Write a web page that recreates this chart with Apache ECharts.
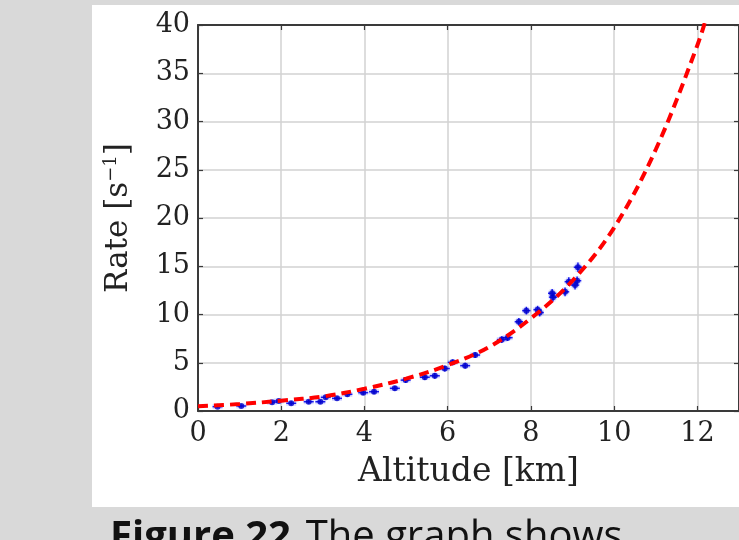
<!DOCTYPE html>
<html>
<head>
<meta charset="utf-8">
<script src="https://cdn.jsdelivr.net/npm/echarts@6/dist/echarts.min.js"></script>
<style>
html,body{margin:0;padding:0;background:#d9d9d9;overflow:hidden;}
#c{width:739px;height:540px;}
</style>
</head>
<body>
<div id="c"></div>
<script>
// Measured data points (altitude km, rate s^-1) with error bars
const altitude = [0.47,1.04,1.78,1.94,2.24,2.66,2.94,3.07,3.34,3.59,3.97,4.23,4.73,4.99,5.45,5.69,5.93,6.12,6.42,6.66,7.30,7.44,7.71,7.89,8.16,8.21,8.51,8.53,8.82,8.91,9.06,9.11,9.13];
const rate     = [0.45,0.52,0.90,1.04,0.80,0.96,0.96,1.42,1.31,1.73,1.90,2.00,2.35,3.20,3.50,3.65,4.40,5.04,4.70,5.80,7.40,7.60,9.25,10.40,10.50,10.20,12.20,11.80,12.35,13.40,13.05,13.50,14.90];
const altErr   = [0.12,0.12,0.12,0.12,0.12,0.12,0.12,0.12,0.12,0.12,0.12,0.12,0.12,0.12,0.12,0.12,0.12,0.12,0.12,0.12,0.12,0.12,0.1,0.1,0.1,0.1,0.1,0.1,0.1,0.1,0.1,0.1,0.1];
const rateErr  = [0.15,0.15,0.2,0.2,0.2,0.2,0.2,0.2,0.2,0.25,0.25,0.25,0.25,0.3,0.3,0.3,0.3,0.3,0.3,0.3,0.35,0.35,0.4,0.4,0.4,0.4,0.45,0.45,0.45,0.45,0.45,0.45,0.5];
// Fitted curve
const fitAltitude = [0,1,2,3,4,5,6,7,8,9,10,11,12,12.3];
const fitRate     = [0.5,0.72,1.07,1.5,2.3,3.35,4.75,6.65,9.6,13.5,19.0,27.1,37.9,42];
// Tick settings
const xTicks = [0,2,4,6,8,10,12];
const yTicks = [0,5,10,15,20,25,30,35,40];

const pts = altitude.map((a,i)=>[a, rate[i], altErr[i], rateErr[i]]);
const fit = fitAltitude.map((a,i)=>[a, fitRate[i]]);

const serif = 'DejaVu Serif';
const chart = echarts.init(document.getElementById('c'));
const frameColor = '#3a3a3a';
const gridColor = '#d2d2d2';

chart.setOption({
  backgroundColor: '#d9d9d9',
  animation: false,
  graphic: [
    {type:'rect', z:-10, shape:{x:92, y:5, width:660, height:502}, style:{fill:'#ffffff'}},
    {type:'text', z:10, x:110, y:538, style:{
      text:'{b|Figure 22.} {r|The graph shows}',
      verticalAlign:'middle',
      rich:{
        b:{fontFamily:'Open Sans', fontWeight:'bold', fontSize:40, fill:'#111'},
        r:{fontFamily:'Open Sans', fontWeight:'normal', fontSize:40, fill:'#111'}
      }
    }}
  ],
  grid: {left:198, top:25, width:543, height:386, containLabel:false},
  xAxis: [{
    type:'value', min:0, max:13, interval:2, position:'bottom',
    name:'Altitude [km]', nameLocation:'middle', nameGap:45,
    nameTextStyle:{fontFamily:serif, fontSize:33, color:'#222'},
    axisLine:{show:true, onZero:false, lineStyle:{color:frameColor, width:2}},
    axisTick:{show:true, inside:true, length:5, lineStyle:{color:frameColor, width:1.2}},
    axisLabel:{fontFamily:serif, fontSize:27, color:'#222', margin:9, showMaxLabel:false,
      formatter:v => xTicks.indexOf(v) >= 0 ? String(v) : ''},
    splitLine:{show:true, lineStyle:{color:gridColor, width:1.5}}
  },{
    type:'value', min:0, max:13, interval:2, position:'top',
    axisLine:{show:true, onZero:false, lineStyle:{color:frameColor, width:2}},
    axisTick:{show:true, inside:true, length:5, lineStyle:{color:frameColor, width:1.2}},
    axisLabel:{show:false}, splitLine:{show:false}
  }],
  yAxis: [{
    type:'value', min:0, max:40, interval:5, position:'left',
    name:'{n|Rate [s}{s|−1}{n|]}', nameLocation:'middle', nameGap:62, nameRotate:90,
    nameTextStyle:{fontFamily:serif, fontSize:31, color:'#222',
      rich:{
        n:{fontFamily:serif, fontSize:31, color:'#222', lineHeight:34},
        s:{fontFamily:serif, fontSize:18, color:'#222', verticalAlign:'top', lineHeight:34}
      }},
    axisLine:{show:true, onZero:false, lineStyle:{color:frameColor, width:2}},
    axisTick:{show:true, inside:true, length:5, lineStyle:{color:frameColor, width:1.2}},
    axisLabel:{fontFamily:serif, fontSize:27, color:'#222', margin:8,
      formatter:v => yTicks.indexOf(v) >= 0 ? String(v) : ''},
    splitLine:{show:true, lineStyle:{color:gridColor, width:1.5}}
  },{
    type:'value', min:0, max:40, interval:5, position:'right',
    axisLine:{show:true, onZero:false, lineStyle:{color:frameColor, width:2}},
    axisTick:{show:true, inside:true, length:5, lineStyle:{color:frameColor, width:1.2}},
    axisLabel:{show:false}, splitLine:{show:false}
  }],
  series: [
    {
      type:'custom', z:3, clip:true,
      data: pts,
      renderItem: function(params, api){
        const x = api.value(0), y = api.value(1), ex = api.value(2), ey = api.value(3);
        const l = api.coord([x-ex, y]), r = api.coord([x+ex, y]);
        const b = api.coord([x, y-ey]), t = api.coord([x, y+ey]);
        const halo = {stroke:'rgba(110,120,255,0.28)', lineWidth:5};
        const core = {stroke:'#1a1aee', lineWidth:1.5};
        return {type:'group', children:[
          {type:'line', shape:{x1:l[0],y1:l[1],x2:r[0],y2:r[1]}, style:halo},
          {type:'line', shape:{x1:b[0],y1:b[1],x2:t[0],y2:t[1]}, style:halo},
          {type:'line', shape:{x1:l[0],y1:l[1],x2:r[0],y2:r[1]}, style:core},
          {type:'line', shape:{x1:b[0],y1:b[1],x2:t[0],y2:t[1]}, style:core}
        ]};
      }
    },
    {
      type:'scatter', z:4, symbol:'circle', symbolSize:6,
      data: pts.map(p=>[p[0],p[1]]),
      itemStyle:{color:'#0000c8'}
    },
    {
      type:'line', z:5, data: fit, smooth:0.35, symbol:'none', clip:true,
      lineStyle:{color:'#ff0000', width:4, type:[10,6], cap:'butt'}
    }
  ]
});
</script>
</body>
</html>
